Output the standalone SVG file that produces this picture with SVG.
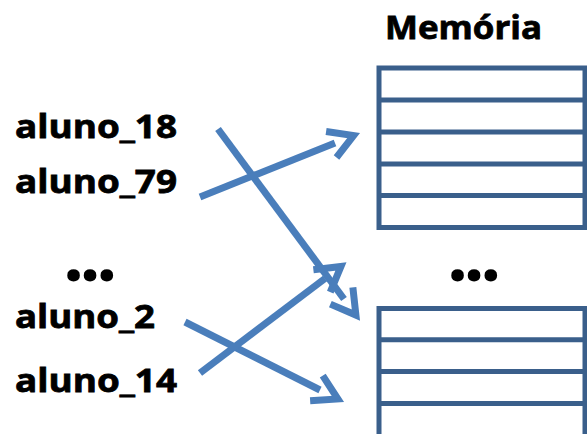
<svg xmlns="http://www.w3.org/2000/svg" width="587" height="434" viewBox="0 0 587 434">
  <style>
    .lbl { font-family: "Open Sans", "Liberation Sans", sans-serif; font-weight: bold; font-size: 33px; fill: #000; stroke: #000; stroke-width: 0.8px; }
    .dots { font-family: "Open Sans", "Liberation Sans", sans-serif; font-weight: bold; font-size: 74px; fill: #000; letter-spacing: -4.5px; }
    .mem { fill: #fff; stroke: #3A5F8B; stroke-width: 5; }
    .row { stroke: #3A5F8B; stroke-width: 5; }
    .arrow { stroke: #4A7EBB; stroke-width: 7; fill: none; marker-end: url(#open); }
  </style>
  <defs>
    <marker id="open" markerUnits="userSpaceOnUse" orient="auto" refX="0" refY="0" markerWidth="60" markerHeight="60" viewBox="-10 -30 60 60" overflow="visible">
      <path d="M -4 -14 L 20 0 L -4 14" fill="none" stroke="#4A7EBB" stroke-width="7" stroke-linejoin="miter" stroke-miterlimit="10"/>
    </marker>
  </defs>
  <rect width="587" height="434" fill="#fff"/>

  <g id="titulo-memoria">
    <text class="lbl" x="385" y="39" textLength="157" lengthAdjust="spacingAndGlyphs">Memória</text>
  </g>

  <g id="memoria-bloco-1">
    <rect class="mem" x="379" y="68" width="206" height="159.5"/>
    <line class="row" x1="379" y1="100" x2="585" y2="100"/>
    <line class="row" x1="379" y1="132" x2="585" y2="132"/>
    <line class="row" x1="379" y1="164" x2="585" y2="164"/>
    <line class="row" x1="379" y1="195.5" x2="585" y2="195.5"/>
  </g>

  <g id="memoria-reticencias">
    <text class="dots" x="447" y="281">...</text>
  </g>

  <g id="memoria-bloco-2">
    <rect class="mem" x="379" y="308.5" width="206" height="160"/>
    <line class="row" x1="379" y1="339.7" x2="585" y2="339.7"/>
    <line class="row" x1="379" y1="371.5" x2="585" y2="371.5"/>
    <line class="row" x1="379" y1="403.5" x2="585" y2="403.5"/>
  </g>

  <g id="aluno_18"><text class="lbl" x="15" y="138" textLength="162" lengthAdjust="spacingAndGlyphs">aluno_18</text></g>
  <g id="aluno_79"><text class="lbl" x="15" y="193" textLength="162" lengthAdjust="spacingAndGlyphs">aluno_79</text></g>
  <g id="reticencias"><text class="dots" x="63" y="281">...</text></g>
  <g id="aluno_2"><text class="lbl" x="15" y="328" textLength="140" lengthAdjust="spacingAndGlyphs">aluno_2</text></g>
  <g id="aluno_14"><text class="lbl" x="15" y="392" textLength="162" lengthAdjust="spacingAndGlyphs">aluno_14</text></g>

  <g id="conectores">
    <line class="arrow" x1="218" y1="129" x2="344" y2="299"/>
    <line class="arrow" x1="200" y1="197" x2="335" y2="143"/>
    <line class="arrow" x1="185" y1="322" x2="320" y2="390"/>
    <line class="arrow" x1="200" y1="373" x2="325" y2="278.5"/>
  </g>
</svg>
